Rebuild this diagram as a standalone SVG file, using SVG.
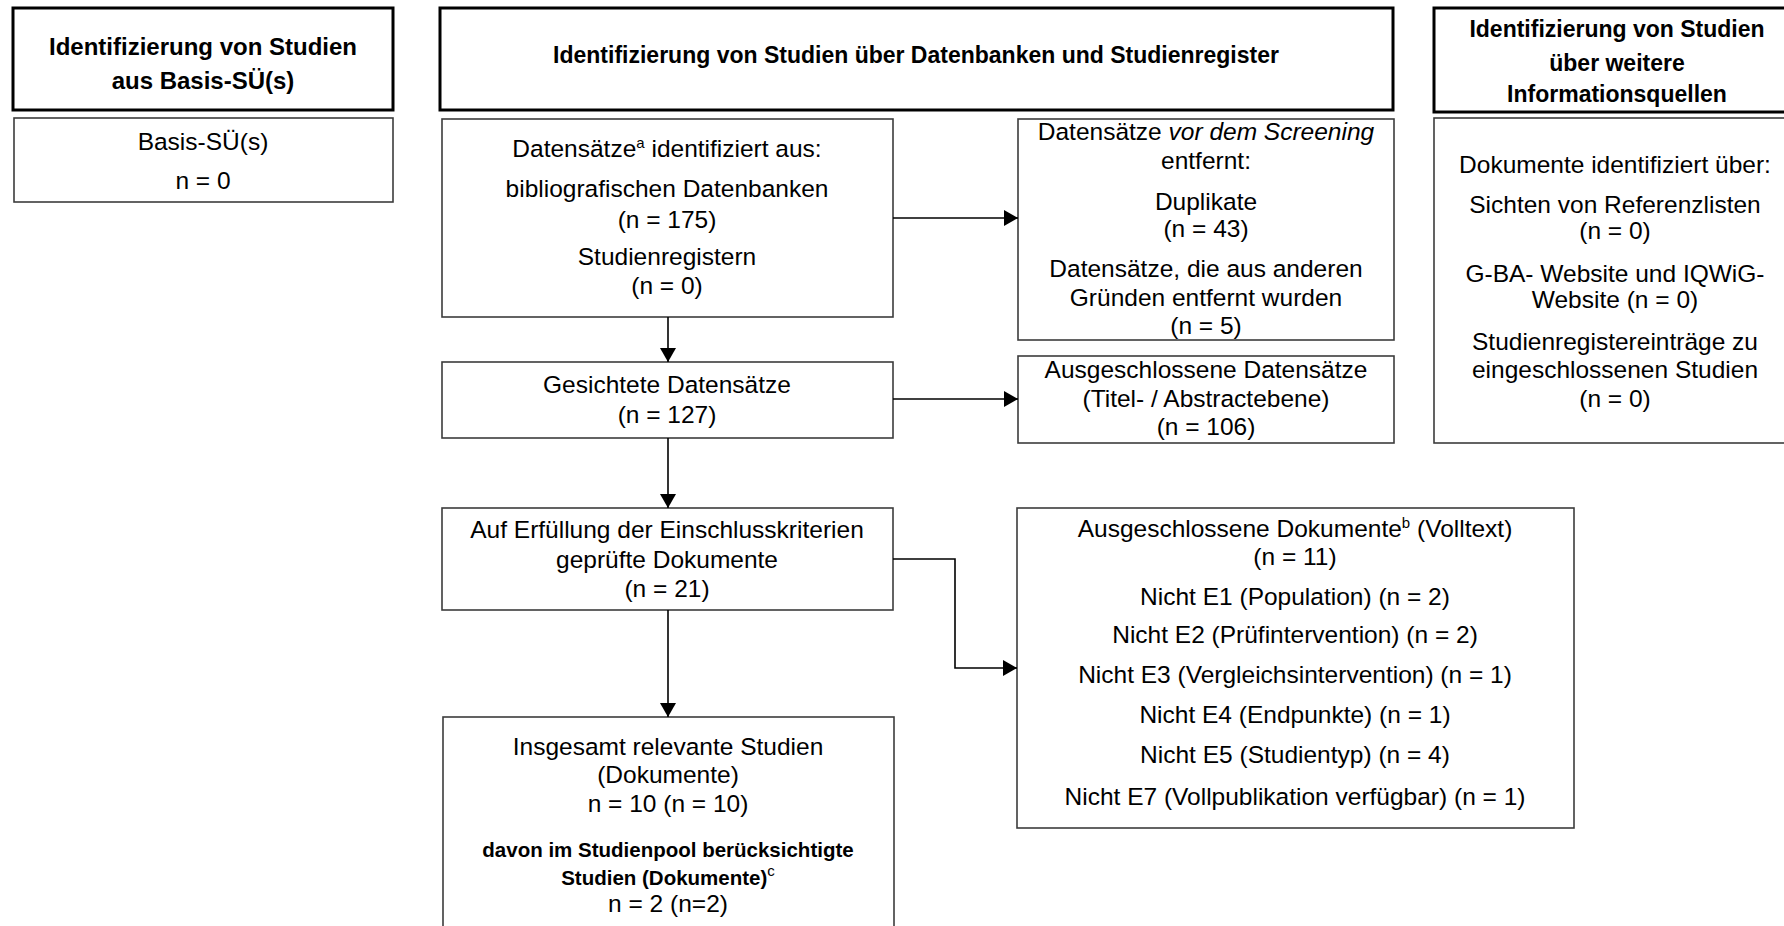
<svg xmlns="http://www.w3.org/2000/svg" width="1784" height="926" viewBox="0 0 1784 926">
<style>
.hdr{fill:#fff;stroke:#000;stroke-width:3}
.box{fill:#fff;stroke:#3c3c3c;stroke-width:1.6}
text{font-family:"Liberation Sans",Arial,sans-serif;fill:#000;text-anchor:middle}
.t{font-size:24.5px}
.hb{font-size:23px;font-weight:bold}
.hb1{font-size:24px;font-weight:bold}
.bb{font-size:20.5px;font-weight:bold}
.sup{font-size:15px}
.con{fill:none;stroke:#000;stroke-width:1.6}
</style>
<defs>
<marker id="arr" markerUnits="userSpaceOnUse" markerWidth="16" markerHeight="18" refX="14" refY="8" orient="auto">
<path d="M0,0 L14,8 L0,16 Z" fill="#000"/>
</marker>
</defs>
<rect width="1784" height="926" fill="#fff"/>

<g id="header-basis">
<rect class="hdr" x="13" y="8" width="380" height="102"/>
<text class="hb1" x="203" y="55">Identifizierung von Studien</text>
<text class="hb1" x="203" y="89">aus Basis-SÜ(s)</text>
</g>

<g id="header-datenbanken">
<rect class="hdr" x="440" y="8" width="953" height="102"/>
<text class="hb" x="916" y="63">Identifizierung von Studien über Datenbanken und Studienregister</text>
</g>

<g id="header-weitere">
<rect class="hdr" x="1434" y="8" width="370" height="104"/>
<text class="hb" x="1617" y="37">Identifizierung von Studien</text>
<text class="hb" x="1617" y="71">über weitere</text>
<text class="hb" x="1617" y="102">Informationsquellen</text>
</g>

<g id="basis">
<rect class="box" x="14" y="118" width="379" height="84"/>
<text class="t" x="203" y="150">Basis-SÜ(s)</text>
<text class="t" x="203" y="189">n = 0</text>
</g>

<g id="identifiziert">
<rect class="box" x="442" y="119" width="451" height="198"/>
<text class="t" x="667" y="157">Datensätze<tspan class="sup" dy="-9">a</tspan><tspan dy="9"> identifiziert aus:</tspan></text>
<text class="t" x="667" y="197">bibliografischen Datenbanken</text>
<text class="t" x="667" y="228">(n = 175)</text>
<text class="t" x="667" y="265">Studienregistern</text>
<text class="t" x="667" y="294">(n = 0)</text>
</g>

<g id="entfernt">
<rect class="box" x="1018" y="119" width="376" height="221"/>
<text class="t" x="1206" y="140">Datensätze <tspan font-style="italic">vor dem Screening</tspan></text>
<text class="t" x="1206" y="169">entfernt:</text>
<text class="t" x="1206" y="210">Duplikate</text>
<text class="t" x="1206" y="237">(n = 43)</text>
<text class="t" x="1206" y="277">Datensätze, die aus anderen</text>
<text class="t" x="1206" y="306">Gründen entfernt wurden</text>
<text class="t" x="1206" y="334">(n = 5)</text>
</g>

<g id="weitere-quellen">
<rect class="box" x="1434" y="118" width="370" height="325"/>
<text class="t" x="1615" y="173">Dokumente identifiziert über:</text>
<text class="t" x="1615" y="213">Sichten von Referenzlisten</text>
<text class="t" x="1615" y="239">(n = 0)</text>
<text class="t" x="1615" y="282">G-BA- Website und IQWiG-</text>
<text class="t" x="1615" y="308">Website (n = 0)</text>
<text class="t" x="1615" y="350">Studienregistereinträge zu</text>
<text class="t" x="1615" y="378">eingeschlossenen Studien</text>
<text class="t" x="1615" y="407">(n = 0)</text>
</g>

<g id="gesichtet">
<rect class="box" x="442" y="362" width="451" height="76"/>
<text class="t" x="667" y="393">Gesichtete Datensätze</text>
<text class="t" x="667" y="423">(n = 127)</text>
</g>

<g id="ausgeschlossen-titel">
<rect class="box" x="1018" y="356" width="376" height="87"/>
<text class="t" x="1206" y="378">Ausgeschlossene Datensätze</text>
<text class="t" x="1206" y="407">(Titel- / Abstractebene)</text>
<text class="t" x="1206" y="435">(n = 106)</text>
</g>

<g id="geprueft">
<rect class="box" x="442" y="508" width="451" height="102"/>
<text class="t" x="667" y="538">Auf Erfüllung der Einschlusskriterien</text>
<text class="t" x="667" y="568">geprüfte Dokumente</text>
<text class="t" x="667" y="597">(n = 21)</text>
</g>

<g id="ausgeschlossen-volltext">
<rect class="box" x="1017" y="508" width="557" height="320"/>
<text class="t" x="1295" y="537">Ausgeschlossene Dokumente<tspan class="sup" dy="-9">b</tspan><tspan dy="9"> (Volltext)</tspan></text>
<text class="t" x="1295" y="565">(n = 11)</text>
<text class="t" x="1295" y="605">Nicht E1 (Population) (n = 2)</text>
<text class="t" x="1295" y="643">Nicht E2 (Prüfintervention) (n = 2)</text>
<text class="t" x="1295" y="683">Nicht E3 (Vergleichsintervention) (n = 1)</text>
<text class="t" x="1295" y="723">Nicht E4 (Endpunkte) (n = 1)</text>
<text class="t" x="1295" y="763">Nicht E5 (Studientyp) (n = 4)</text>
<text class="t" x="1295" y="805">Nicht E7 (Vollpublikation verfügbar) (n = 1)</text>
</g>

<g id="relevant">
<rect class="box" x="443" y="717" width="451" height="220"/>
<text class="t" x="668" y="755">Insgesamt relevante Studien</text>
<text class="t" x="668" y="783">(Dokumente)</text>
<text class="t" x="668" y="812">n = 10 (n = 10)</text>
<text class="bb" x="668" y="857">davon im Studienpool berücksichtigte</text>
<text class="bb" x="668" y="885">Studien (Dokumente)<tspan class="sup" font-weight="normal" font-size="13px" dy="-9">c</tspan></text>
<text class="t" x="668" y="912">n = 2 (n=2)</text>
</g>

<g id="connectors">
<path class="con" d="M668,317 V362" marker-end="url(#arr)"/>
<path class="con" d="M893,218 H1018" marker-end="url(#arr)"/>
<path class="con" d="M893,399 H1018" marker-end="url(#arr)"/>
<path class="con" d="M668,438 V508" marker-end="url(#arr)"/>
<path class="con" d="M893,559 H955 V668 H1017" marker-end="url(#arr)"/>
<path class="con" d="M668,610 V717" marker-end="url(#arr)"/>
</g>
</svg>
